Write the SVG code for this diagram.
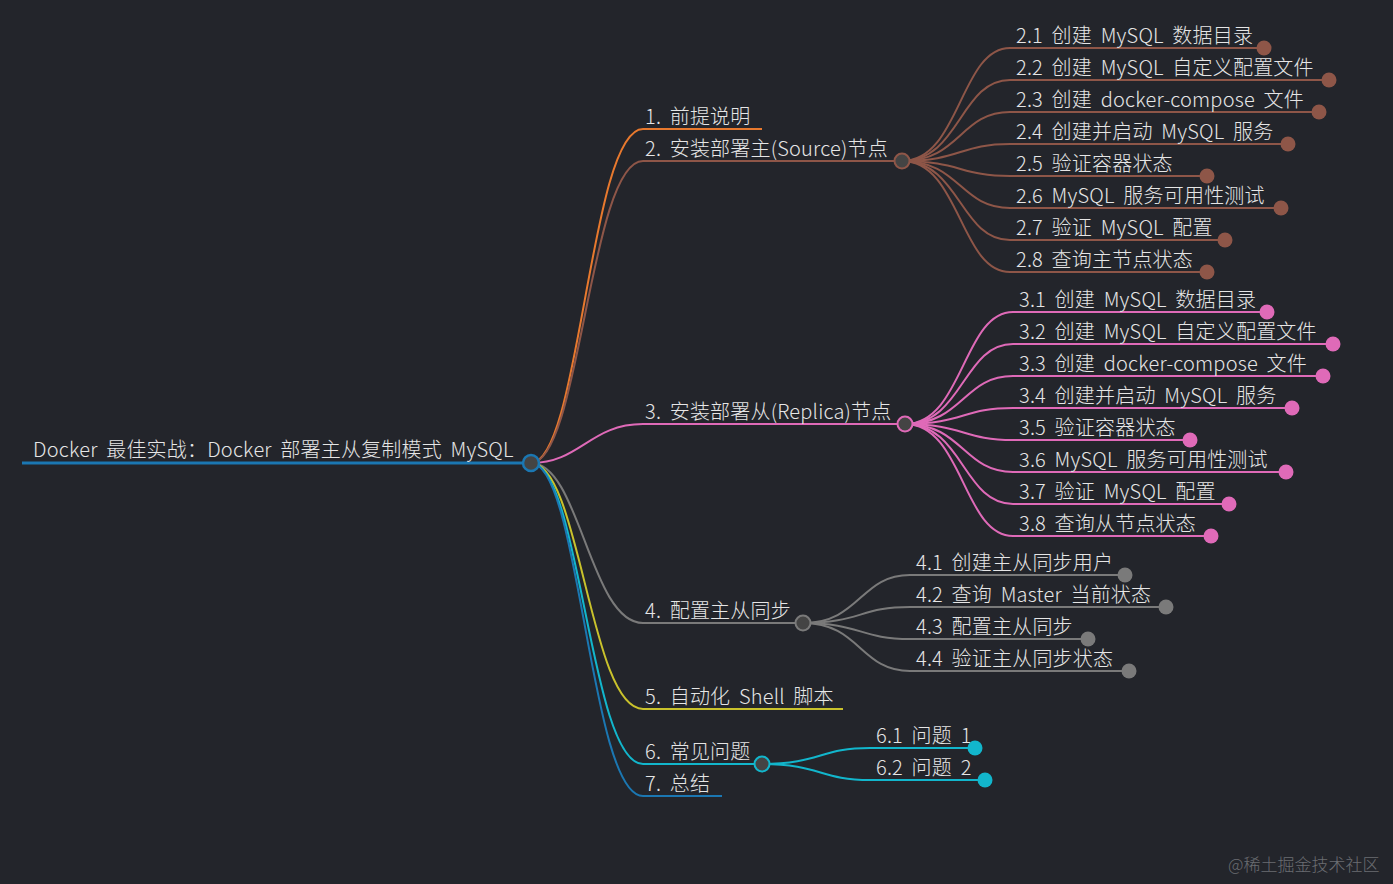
<svg xmlns="http://www.w3.org/2000/svg" width="1393" height="884" viewBox="0 0 1393 884">
<style>
text{font-family:"Noto Sans CJK SC","Noto Sans",sans-serif;font-size:20px;font-weight:300;word-spacing:4px;letter-spacing:0.2px;fill:#e6e6e6}
.l{fill:none;stroke-width:2}
.o{stroke:#e8792e}.b{stroke:#8e5648}.p{stroke:#df6ab8}.g{stroke:#7a7a7a}.y{stroke:#c9c22c}.c{stroke:#12b6cc}.u{stroke:#1b77b2}
</style>
<rect width="1393" height="884" fill="#23252b"/>
<g id="connectors">
<path class="l u" style="stroke-width:3" d="M22 463H531"/>
<path class="l o" d="M531 463C580 463 590 129 643 129H762"/>
<path class="l b" d="M531 463C580 463 590 161 643 161H902"/>
<path class="l p" d="M531 463C580 463 590 424 643 424H905"/>
<path class="l g" d="M531 463C580 463 590 623 643 623H803"/>
<path class="l y" d="M531 463C580 463 590 709 643 709H843"/>
<path class="l c" d="M531 463C580 463 590 764 643 764H762"/>
<path class="l u" d="M531 463C580 463 590 796 643 796H722"/>
<g class="l b">
<path d="M902 161C960 161 960 48 1010 48H1264"/>
<path d="M902 161C960 161 960 80 1010 80H1329"/>
<path d="M902 161C960 161 960 112 1010 112H1319"/>
<path d="M902 161C960 161 960 144 1010 144H1288"/>
<path d="M902 161C960 161 960 176 1010 176H1207"/>
<path d="M902 161C960 161 960 208 1010 208H1281"/>
<path d="M902 161C960 161 960 240 1010 240H1225"/>
<path d="M902 161C960 161 960 272 1010 272H1207"/>
</g>
<g class="l p">
<path d="M905 424C963 424 963 312 1013 312H1267"/>
<path d="M905 424C963 424 963 344 1013 344H1333"/>
<path d="M905 424C963 424 963 376 1013 376H1323"/>
<path d="M905 424C963 424 963 408 1013 408H1292"/>
<path d="M905 424C963 424 963 440 1013 440H1190"/>
<path d="M905 424C963 424 963 472 1013 472H1286"/>
<path d="M905 424C963 424 963 504 1013 504H1229"/>
<path d="M905 424C963 424 963 536 1013 536H1211"/>
</g>
<g class="l g">
<path d="M803 623C860 623 860 575 910 575H1125"/>
<path d="M803 623C860 623 860 607 910 607H1166"/>
<path d="M803 623C860 623 860 639 910 639H1088"/>
<path d="M803 623C860 623 860 671 910 671H1129"/>
</g>
<g class="l c">
<path d="M762 764C820 764 820 748 870 748H975"/>
<path d="M762 764C820 764 820 780 870 780H985"/>
</g>
</g>
<g id="root"><text x="33" y="457">Docker 最佳实战：Docker 部署主从复制模式 MySQL</text><circle cx="531" cy="463" r="8" fill="#444" stroke="#1b77b2" stroke-width="2.5"/></g>
<g id="n1"><text x="645" y="124">1. 前提说明</text></g>
<g id="n2"><text x="645" y="156">2. 安装部署主(Source)节点</text><circle cx="902" cy="161" r="7.5" fill="#444" stroke="#8e5648" stroke-width="2"/></g>
<g id="n2c" fill="#8e5648">
<text x="1016" y="43">2.1 创建 MySQL 数据目录</text><circle cx="1264" cy="48" r="7.5"/>
<text x="1016" y="75">2.2 创建 MySQL 自定义配置文件</text><circle cx="1329" cy="80" r="7.5"/>
<text x="1016" y="107">2.3 创建 docker-compose 文件</text><circle cx="1319" cy="112" r="7.5"/>
<text x="1016" y="139">2.4 创建并启动 MySQL 服务</text><circle cx="1288" cy="144" r="7.5"/>
<text x="1016" y="171">2.5 验证容器状态</text><circle cx="1207" cy="176" r="7.5"/>
<text x="1016" y="203">2.6 MySQL 服务可用性测试</text><circle cx="1281" cy="208" r="7.5"/>
<text x="1016" y="235">2.7 验证 MySQL 配置</text><circle cx="1225" cy="240" r="7.5"/>
<text x="1016" y="267">2.8 查询主节点状态</text><circle cx="1207" cy="272" r="7.5"/>
</g>
<g id="n3"><text x="645" y="419">3. 安装部署从(Replica)节点</text><circle cx="905" cy="424" r="7.5" fill="#444" stroke="#df6ab8" stroke-width="2"/></g>
<g id="n3c" fill="#df6ab8">
<text x="1019" y="307">3.1 创建 MySQL 数据目录</text><circle cx="1267" cy="312" r="7.5"/>
<text x="1019" y="339">3.2 创建 MySQL 自定义配置文件</text><circle cx="1333" cy="344" r="7.5"/>
<text x="1019" y="371">3.3 创建 docker-compose 文件</text><circle cx="1323" cy="376" r="7.5"/>
<text x="1019" y="403">3.4 创建并启动 MySQL 服务</text><circle cx="1292" cy="408" r="7.5"/>
<text x="1019" y="435">3.5 验证容器状态</text><circle cx="1190" cy="440" r="7.5"/>
<text x="1019" y="467">3.6 MySQL 服务可用性测试</text><circle cx="1286" cy="472" r="7.5"/>
<text x="1019" y="499">3.7 验证 MySQL 配置</text><circle cx="1229" cy="504" r="7.5"/>
<text x="1019" y="531">3.8 查询从节点状态</text><circle cx="1211" cy="536" r="7.5"/>
</g>
<g id="n4"><text x="645" y="618">4. 配置主从同步</text><circle cx="803" cy="623" r="7.5" fill="#444" stroke="#7a7a7a" stroke-width="2"/></g>
<g id="n4c" fill="#7a7a7a">
<text x="916" y="570">4.1 创建主从同步用户</text><circle cx="1125" cy="575" r="7.5"/>
<text x="916" y="602">4.2 查询 Master 当前状态</text><circle cx="1166" cy="607" r="7.5"/>
<text x="916" y="634">4.3 配置主从同步</text><circle cx="1088" cy="639" r="7.5"/>
<text x="916" y="666">4.4 验证主从同步状态</text><circle cx="1129" cy="671" r="7.5"/>
</g>
<g id="n5"><text x="645" y="704">5. 自动化 Shell 脚本</text></g>
<g id="n6"><text x="645" y="759">6. 常见问题</text><circle cx="762" cy="764" r="7.5" fill="#444" stroke="#12b6cc" stroke-width="2"/></g>
<g id="n6c" fill="#12b6cc">
<text x="876" y="743">6.1 问题 1</text><circle cx="975" cy="748" r="7.5"/>
<text x="876" y="775">6.2 问题 2</text><circle cx="985" cy="780" r="7.5"/>
</g>
<g id="n7"><text x="645" y="791">7. 总结</text></g>
<text x="1228" y="871" style="font-size:17px;word-spacing:0;letter-spacing:0;fill:#6b6d72">@稀土掘金技术社区</text>
</svg>
